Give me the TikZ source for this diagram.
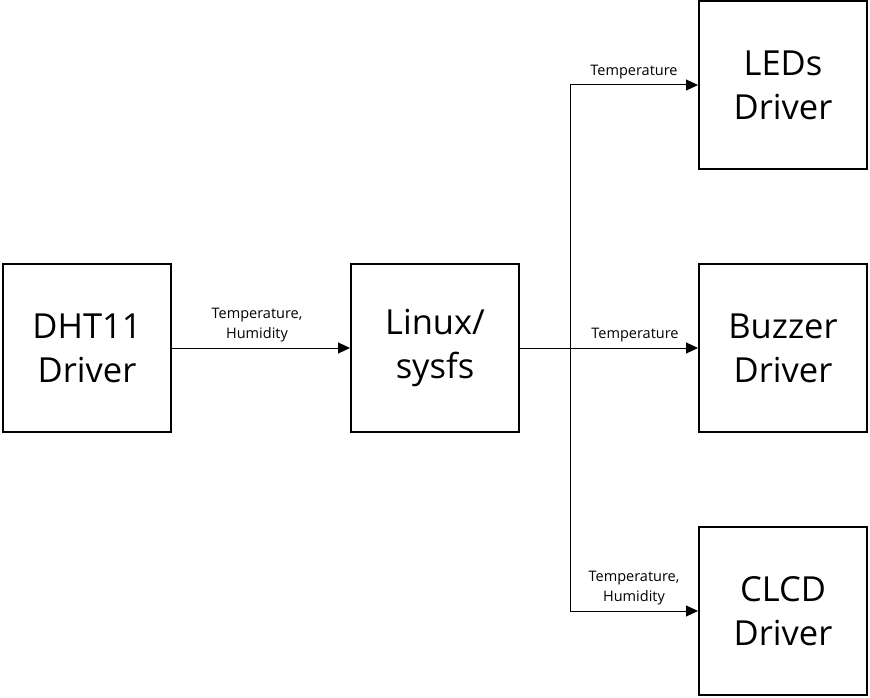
\documentclass[tikz,border=0pt]{standalone}
\usepackage{fontspec}
\setmainfont{Open Sans}
\usepackage{tikz}
\usetikzlibrary{arrows.meta,calc,positioning}

\begin{document}
\begin{tikzpicture}[x=1pt, y=-1pt, node distance = 178pt,
  block/.style={draw, line width=2pt, minimum width=168pt, minimum height=168pt, inner sep=0pt, text centered, align=center, font=\fontsize{34.5}{44}\selectfont},
  sig/.style={draw, line width=1pt, -{Triangle[length=12pt,width=11pt]}},
  lbl/.style={font=\fontsize{14.5}{20}\selectfont, align=center, above, inner sep=6pt}]
\useasboundingbox (0,0) rectangle (870,698);

%nodes
\node [block] (dht) at (87,348) {DHT11\\Driver};

\node [block, right=of dht] (lin) {Linux/\\sysfs};
\node [block, right=of lin] (buz) {Buzzer\\Driver};
\node [block, above=93pt of buz] (led) {LEDs\\Driver};
\node [block, below=93pt of buz] (clcd) {CLCD\\Driver};

\coordinate (fork) at ($(lin.east)+(50,0)$);

%arrows
\path [sig] (dht) -- node[lbl, xshift=-4pt]{Temperature,\\Humidity} (lin);
\path [sig] (lin) -- node[lbl, xshift=26pt]{Temperature} (buz);
\path [sig] (fork) |- node[lbl, pos=0.75]{Temperature} (led);
\path [sig] (fork) |- node[lbl, pos=0.75]{Temperature,\\Humidity} (clcd);

\end{tikzpicture}
\end{document}
